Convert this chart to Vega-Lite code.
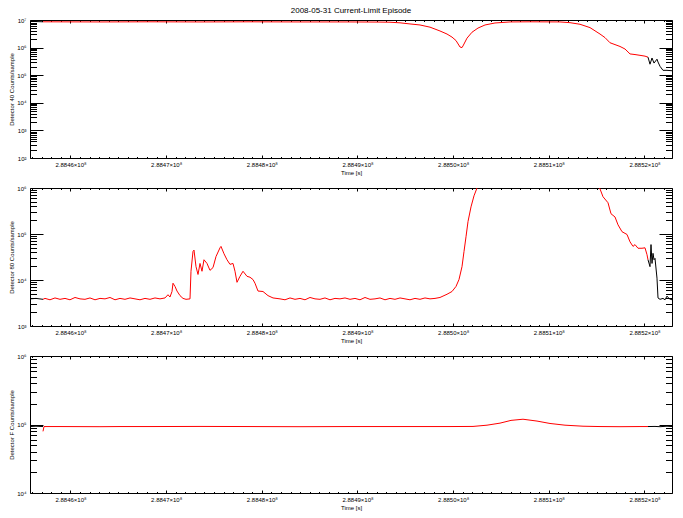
{
  "$schema": "https://vega.github.io/schema/vega-lite/v6.json",
  "background": "white",
  "padding": {"left": 8, "top": 7, "right": 5, "bottom": 5},
  "config": {
    "view": {"stroke": null},
    "axis": {"domainColor": "black", "tickColor": "black", "labelColor": "black", "titleColor": "black", "labelFont": "Liberation Sans", "titleFont": "Liberation Sans", "labelFontSize": 6, "titleFontSize": 6, "titleFontWeight": "normal", "grid": false, "labelOverlap": false, "labelBound": false, "labelFlush": false, "tickWidth": 1, "domainWidth": 1},
    "title": {"font": "Liberation Sans", "fontSize": 8, "fontWeight": "normal", "color": "black"}
  },
  "datasets": {
    "d1": [
      {"t":288455768,"v":8900000,"p":"out","s":"a"},
      {"t":288456395,"v":8800000,"p":"out","s":"a"},
      {"t":288457127,"v":8600000,"p":"out","s":"a"},
      {"t":288457127,"v":8600000,"p":"in","s":"b"},
      {"t":288463085,"v":8500000,"p":"in","s":"b"},
      {"t":288468312,"v":8600000,"p":"in","s":"b"},
      {"t":288473538,"v":8500000,"p":"in","s":"b"},
      {"t":288478765,"v":8600000,"p":"in","s":"b"},
      {"t":288483991,"v":8500000,"p":"in","s":"b"},
      {"t":288489218,"v":8500000,"p":"in","s":"b"},
      {"t":288492354,"v":8400000,"p":"in","s":"b"},
      {"t":288493399,"v":8300000,"p":"in","s":"b"},
      {"t":288494444,"v":7900000,"p":"in","s":"b"},
      {"t":288495489,"v":7200000,"p":"in","s":"b"},
      {"t":288496535,"v":6600000,"p":"in","s":"b"},
      {"t":288497580,"v":5500000,"p":"in","s":"b"},
      {"t":288498625,"v":4000000,"p":"in","s":"b"},
      {"t":288499357,"v":3100000,"p":"in","s":"b"},
      {"t":288499880,"v":2400000,"p":"in","s":"b"},
      {"t":288500298,"v":1800000,"p":"in","s":"b"},
      {"t":288500716,"v":1050000,"p":"in","s":"b"},
      {"t":288500925,"v":1000000,"p":"in","s":"b"},
      {"t":288501029,"v":1150000,"p":"in","s":"b"},
      {"t":288501448,"v":2200000,"p":"in","s":"b"},
      {"t":288501970,"v":3600000,"p":"in","s":"b"},
      {"t":288502597,"v":5100000,"p":"in","s":"b"},
      {"t":288503329,"v":6600000,"p":"in","s":"b"},
      {"t":288504374,"v":7800000,"p":"in","s":"b"},
      {"t":288505942,"v":8500000,"p":"in","s":"b"},
      {"t":288508033,"v":8600000,"p":"in","s":"b"},
      {"t":288511169,"v":8500000,"p":"in","s":"b"},
      {"t":288512214,"v":8000000,"p":"in","s":"b"},
      {"t":288513260,"v":7000000,"p":"in","s":"b"},
      {"t":288514305,"v":5300000,"p":"in","s":"b"},
      {"t":288515350,"v":3100000,"p":"in","s":"b"},
      {"t":288515873,"v":2300000,"p":"in","s":"b"},
      {"t":288516395,"v":1500000,"p":"in","s":"b"},
      {"t":288517441,"v":1100000,"p":"in","s":"b"},
      {"t":288517963,"v":890000,"p":"in","s":"b"},
      {"t":288518486,"v":590000,"p":"in","s":"b"},
      {"t":288519009,"v":560000,"p":"in","s":"b"},
      {"t":288519531,"v":525000,"p":"in","s":"b"},
      {"t":288520054,"v":490000,"p":"in","s":"b"},
      {"t":288520368,"v":450000,"p":"in","s":"b"},
      {"t":288520368,"v":450000,"p":"out","s":"c"},
      {"t":288520577,"v":250000,"p":"out","s":"c"},
      {"t":288520786,"v":420000,"p":"out","s":"c"},
      {"t":288520995,"v":275000,"p":"out","s":"c"},
      {"t":288521308,"v":380000,"p":"out","s":"c"},
      {"t":288521413,"v":300000,"p":"out","s":"c"},
      {"t":288521622,"v":210000,"p":"out","s":"c"},
      {"t":288521935,"v":150000,"p":"out","s":"c"},
      {"t":288522354,"v":150000,"p":"out","s":"c"},
      {"t":288522876,"v":145000,"p":"out","s":"c"}
    ],
    "d2": [
      {"t":288455768,"v":3890,"p":"out","s":"a"},
      {"t":288456395,"v":3981,"p":"out","s":"a"},
      {"t":288457127,"v":3802,"p":"out","s":"a"},
      {"t":288457127,"v":3802,"p":"in","s":"b"},
      {"t":288457336,"v":3981,"p":"in","s":"b"},
      {"t":288457859,"v":3715,"p":"in","s":"b"},
      {"t":288458381,"v":4074,"p":"in","s":"b"},
      {"t":288458904,"v":3802,"p":"in","s":"b"},
      {"t":288459427,"v":3981,"p":"in","s":"b"},
      {"t":288459949,"v":3715,"p":"in","s":"b"},
      {"t":288460472,"v":4169,"p":"in","s":"b"},
      {"t":288460995,"v":3890,"p":"in","s":"b"},
      {"t":288461517,"v":3802,"p":"in","s":"b"},
      {"t":288462040,"v":4074,"p":"in","s":"b"},
      {"t":288462563,"v":3715,"p":"in","s":"b"},
      {"t":288463085,"v":3981,"p":"in","s":"b"},
      {"t":288463608,"v":3890,"p":"in","s":"b"},
      {"t":288464130,"v":4169,"p":"in","s":"b"},
      {"t":288464653,"v":3715,"p":"in","s":"b"},
      {"t":288465176,"v":3981,"p":"in","s":"b"},
      {"t":288465698,"v":3802,"p":"in","s":"b"},
      {"t":288466221,"v":4074,"p":"in","s":"b"},
      {"t":288466744,"v":3890,"p":"in","s":"b"},
      {"t":288467266,"v":3715,"p":"in","s":"b"},
      {"t":288467789,"v":3981,"p":"in","s":"b"},
      {"t":288468312,"v":3802,"p":"in","s":"b"},
      {"t":288468834,"v":4074,"p":"in","s":"b"},
      {"t":288469357,"v":3890,"p":"in","s":"b"},
      {"t":288469880,"v":4074,"p":"in","s":"b"},
      {"t":288470193,"v":4786,"p":"in","s":"b"},
      {"t":288470402,"v":4266,"p":"in","s":"b"},
      {"t":288470611,"v":5623,"p":"in","s":"b"},
      {"t":288470716,"v":8511,"p":"in","s":"b"},
      {"t":288470925,"v":7244,"p":"in","s":"b"},
      {"t":288471134,"v":5754,"p":"in","s":"b"},
      {"t":288471448,"v":4571,"p":"in","s":"b"},
      {"t":288471761,"v":3981,"p":"in","s":"b"},
      {"t":288472075,"v":3802,"p":"in","s":"b"},
      {"t":288472493,"v":3890,"p":"in","s":"b"},
      {"t":288472597,"v":15488,"p":"in","s":"b"},
      {"t":288472806,"v":41687,"p":"in","s":"b"},
      {"t":288472911,"v":44668,"p":"in","s":"b"},
      {"t":288473120,"v":19498,"p":"in","s":"b"},
      {"t":288473329,"v":13183,"p":"in","s":"b"},
      {"t":288473538,"v":22909,"p":"in","s":"b"},
      {"t":288473747,"v":15488,"p":"in","s":"b"},
      {"t":288473956,"v":27542,"p":"in","s":"b"},
      {"t":288474270,"v":22909,"p":"in","s":"b"},
      {"t":288474583,"v":16218,"p":"in","s":"b"},
      {"t":288474897,"v":18621,"p":"in","s":"b"},
      {"t":288475211,"v":32359,"p":"in","s":"b"},
      {"t":288475629,"v":50119,"p":"in","s":"b"},
      {"t":288475733,"v":53703,"p":"in","s":"b"},
      {"t":288476047,"v":37154,"p":"in","s":"b"},
      {"t":288476360,"v":27542,"p":"in","s":"b"},
      {"t":288476674,"v":21878,"p":"in","s":"b"},
      {"t":288476988,"v":22909,"p":"in","s":"b"},
      {"t":288477196,"v":15488,"p":"in","s":"b"},
      {"t":288477406,"v":8913,"p":"in","s":"b"},
      {"t":288477719,"v":12023,"p":"in","s":"b"},
      {"t":288478033,"v":15488,"p":"in","s":"b"},
      {"t":288478451,"v":12023,"p":"in","s":"b"},
      {"t":288478765,"v":11482,"p":"in","s":"b"},
      {"t":288479078,"v":10233,"p":"in","s":"b"},
      {"t":288479287,"v":8511,"p":"in","s":"b"},
      {"t":288479601,"v":5754,"p":"in","s":"b"},
      {"t":288480123,"v":5623,"p":"in","s":"b"},
      {"t":288480646,"v":4571,"p":"in","s":"b"},
      {"t":288481169,"v":4074,"p":"in","s":"b"},
      {"t":288481901,"v":3890,"p":"in","s":"b"},
      {"t":288482423,"v":3715,"p":"in","s":"b"},
      {"t":288482946,"v":4074,"p":"in","s":"b"},
      {"t":288483469,"v":3802,"p":"in","s":"b"},
      {"t":288483991,"v":3981,"p":"in","s":"b"},
      {"t":288484514,"v":3715,"p":"in","s":"b"},
      {"t":288485036,"v":4169,"p":"in","s":"b"},
      {"t":288485559,"v":3890,"p":"in","s":"b"},
      {"t":288486082,"v":3802,"p":"in","s":"b"},
      {"t":288486604,"v":4074,"p":"in","s":"b"},
      {"t":288487127,"v":3715,"p":"in","s":"b"},
      {"t":288487650,"v":3981,"p":"in","s":"b"},
      {"t":288488172,"v":3890,"p":"in","s":"b"},
      {"t":288488695,"v":4074,"p":"in","s":"b"},
      {"t":288489218,"v":3802,"p":"in","s":"b"},
      {"t":288489740,"v":3981,"p":"in","s":"b"},
      {"t":288490263,"v":3715,"p":"in","s":"b"},
      {"t":288490786,"v":4169,"p":"in","s":"b"},
      {"t":288491308,"v":3802,"p":"in","s":"b"},
      {"t":288491831,"v":3890,"p":"in","s":"b"},
      {"t":288492354,"v":4074,"p":"in","s":"b"},
      {"t":288492876,"v":3715,"p":"in","s":"b"},
      {"t":288493399,"v":3981,"p":"in","s":"b"},
      {"t":288493921,"v":3802,"p":"in","s":"b"},
      {"t":288494444,"v":4074,"p":"in","s":"b"},
      {"t":288494967,"v":3890,"p":"in","s":"b"},
      {"t":288495489,"v":3715,"p":"in","s":"b"},
      {"t":288496012,"v":3981,"p":"in","s":"b"},
      {"t":288496535,"v":3802,"p":"in","s":"b"},
      {"t":288497057,"v":4074,"p":"in","s":"b"},
      {"t":288497580,"v":3890,"p":"in","s":"b"},
      {"t":288498103,"v":3981,"p":"in","s":"b"},
      {"t":288498625,"v":4169,"p":"in","s":"b"},
      {"t":288499357,"v":4898,"p":"in","s":"b"},
      {"t":288499880,"v":5623,"p":"in","s":"b"},
      {"t":288500298,"v":7244,"p":"in","s":"b"},
      {"t":288500611,"v":10233,"p":"in","s":"b"},
      {"t":288500925,"v":19498,"p":"in","s":"b"},
      {"t":288501134,"v":41687,"p":"in","s":"b"},
      {"t":288501343,"v":87096,"p":"in","s":"b"},
      {"t":288501552,"v":186209,"p":"in","s":"b"},
      {"t":288501866,"v":389045,"p":"in","s":"b"},
      {"t":288502179,"v":676083,"p":"in","s":"b"},
      {"t":288502493,"v":1000000,"p":"in","s":"b"},
      {"t":288502807,"v":1995262,"p":"in","s":"b"},
      {"t":288503852,"v":3162278,"p":"in","s":"b"},
      {"t":288514305,"v":3162278,"p":"in","s":"b"},
      {"t":288515037,"v":1258925,"p":"in","s":"b"},
      {"t":288515350,"v":954993,"p":"in","s":"b"},
      {"t":288515664,"v":645654,"p":"in","s":"b"},
      {"t":288516186,"v":478630,"p":"in","s":"b"},
      {"t":288516500,"v":275423,"p":"in","s":"b"},
      {"t":288516918,"v":234423,"p":"in","s":"b"},
      {"t":288517232,"v":158489,"p":"in","s":"b"},
      {"t":288517650,"v":112202,"p":"in","s":"b"},
      {"t":288518172,"v":97724,"p":"in","s":"b"},
      {"t":288518486,"v":67608,"p":"in","s":"b"},
      {"t":288518800,"v":53703,"p":"in","s":"b"},
      {"t":288519009,"v":58884,"p":"in","s":"b"},
      {"t":288519322,"v":48978,"p":"in","s":"b"},
      {"t":288519740,"v":48978,"p":"in","s":"b"},
      {"t":288520054,"v":50119,"p":"in","s":"b"},
      {"t":288520263,"v":35481,"p":"in","s":"b"},
      {"t":288520368,"v":27542,"p":"in","s":"b"},
      {"t":288520368,"v":27542,"p":"out","s":"c"},
      {"t":288520577,"v":19498,"p":"out","s":"c"},
      {"t":288520681,"v":58884,"p":"out","s":"c"},
      {"t":288520786,"v":22909,"p":"out","s":"c"},
      {"t":288520890,"v":38019,"p":"out","s":"c"},
      {"t":288520995,"v":27542,"p":"out","s":"c"},
      {"t":288521099,"v":29512,"p":"out","s":"c"},
      {"t":288521308,"v":10965,"p":"out","s":"c"},
      {"t":288521413,"v":4074,"p":"out","s":"c"},
      {"t":288521622,"v":3802,"p":"out","s":"c"},
      {"t":288521935,"v":3981,"p":"out","s":"c"},
      {"t":288522150,"v":3715,"p":"out","s":"c"},
      {"t":288522354,"v":4467,"p":"out","s":"c"},
      {"t":288522600,"v":3890,"p":"out","s":"c"},
      {"t":288522876,"v":3715,"p":"out","s":"c"}
    ],
    "d3": [
      {"t":288455768,"v":93325,"p":"out","s":"a"},
      {"t":288456395,"v":94406,"p":"out","s":"a"},
      {"t":288457127,"v":93325,"p":"out","s":"a"},
      {"t":288457127,"v":79433,"p":"in","s":"b"},
      {"t":288457231,"v":93325,"p":"in","s":"b"},
      {"t":288458904,"v":93325,"p":"in","s":"b"},
      {"t":288463085,"v":92900,"p":"in","s":"b"},
      {"t":288465176,"v":93325,"p":"in","s":"b"},
      {"t":288468312,"v":93325,"p":"in","s":"b"},
      {"t":288473538,"v":93700,"p":"in","s":"b"},
      {"t":288478765,"v":93325,"p":"in","s":"b"},
      {"t":288483991,"v":92900,"p":"in","s":"b"},
      {"t":288489218,"v":93325,"p":"in","s":"b"},
      {"t":288494444,"v":93325,"p":"in","s":"b"},
      {"t":288499671,"v":93325,"p":"in","s":"b"},
      {"t":288502075,"v":93700,"p":"in","s":"b"},
      {"t":288503538,"v":97724,"p":"in","s":"b"},
      {"t":288504897,"v":104713,"p":"in","s":"b"},
      {"t":288506047,"v":114815,"p":"in","s":"b"},
      {"t":288507301,"v":119400,"p":"in","s":"b"},
      {"t":288508765,"v":112202,"p":"in","s":"b"},
      {"t":288510124,"v":103514,"p":"in","s":"b"},
      {"t":288511692,"v":97724,"p":"in","s":"b"},
      {"t":288513573,"v":94406,"p":"in","s":"b"},
      {"t":288515350,"v":93325,"p":"in","s":"b"},
      {"t":288517441,"v":92900,"p":"in","s":"b"},
      {"t":288519531,"v":93325,"p":"in","s":"b"},
      {"t":288520368,"v":93325,"p":"in","s":"b"},
      {"t":288520368,"v":93325,"p":"out","s":"c"},
      {"t":288521099,"v":93700,"p":"out","s":"c"},
      {"t":288521622,"v":92900,"p":"out","s":"c"},
      {"t":288522354,"v":94406,"p":"out","s":"c"},
      {"t":288522876,"v":93325,"p":"out","s":"c"}
    ]
  },
  "spacing": 30,
  "bounds": "flush",
  "vconcat": [
    {
      "width": 642,
      "height": 138,
      "title": {"text": "2008-05-31 Current-Limit Episode", "offset": 2},
      "data": {"name": "d1"},
      "layer": [
        {
          "mark": {"type": "line", "strokeWidth": 1, "clip": true},
          "encoding": {
            "x": {"field": "t", "type": "quantitative", "scale": {"domain": [288455768, 288522876], "nice": false, "zero": false},
              "axis": {"orient": "bottom", "values": [288456000,288457000,288458000,288459000,288460000,288461000,288462000,288463000,288464000,288465000,288466000,288467000,288468000,288469000,288470000,288471000,288472000,288473000,288474000,288475000,288476000,288477000,288478000,288479000,288480000,288481000,288482000,288483000,288484000,288485000,288486000,288487000,288488000,288489000,288490000,288491000,288492000,288493000,288494000,288495000,288496000,288497000,288498000,288499000,288500000,288501000,288502000,288503000,288504000,288505000,288506000,288507000,288508000,288509000,288510000,288511000,288512000,288513000,288514000,288515000,288516000,288517000,288518000,288519000,288520000,288521000,288522000],
                "tickSize": {"condition": {"test": "datum.value % 10000 === 0", "value": -3}, "value": -1.5},
                "labelExpr": "datum.value % 10000 === 0 ? format(datum.value / 1e8, '.4f') + '×10⁸' : ''",
                "labelPadding": 6, "title": "Time [s]", "titlePadding": 1}},
            "y": {"field": "v", "type": "quantitative", "scale": {"type": "log", "domain": [100, 10000000], "nice": false},
              "axis": {"orient": "left", "values": [100,200,300,400,500,600,700,800,900,1000,2000,3000,4000,5000,6000,7000,8000,9000,10000,20000,30000,40000,50000,60000,70000,80000,90000,100000,200000,300000,400000,500000,600000,700000,800000,900000,1000000,2000000,3000000,4000000,5000000,6000000,7000000,8000000,9000000,10000000],
                "tickSize": {"condition": {"test": "abs(log(datum.value)/LN10 - round(log(datum.value)/LN10)) < 0.000001", "value": -13}, "value": -6.5},
                "labelExpr": "abs(log(datum.value)/LN10 - round(log(datum.value)/LN10)) < 0.000001 ? '10' + ['⁰','¹','²','³','⁴','⁵','⁶','⁷','⁸','⁹'][round(log(datum.value)/LN10)] : ''",
                "labelPadding": 17, "title": "Detector 40 Counts/sample", "titlePadding": 2}},
            "color": {"field": "p", "type": "nominal", "scale": {"domain": ["in", "out"], "range": ["#ff0000", "#000000"]}, "legend": null},
            "detail": {"field": "s"}
          }
        },
        {
          "mark": {"type": "line", "opacity": 0},
          "encoding": {
            "x": {"field": "t", "type": "quantitative", "scale": {"domain": [288455768, 288522876], "nice": false, "zero": false},
              "axis": {"orient": "top", "labels": false, "title": null, "values": [288456000,288457000,288458000,288459000,288460000,288461000,288462000,288463000,288464000,288465000,288466000,288467000,288468000,288469000,288470000,288471000,288472000,288473000,288474000,288475000,288476000,288477000,288478000,288479000,288480000,288481000,288482000,288483000,288484000,288485000,288486000,288487000,288488000,288489000,288490000,288491000,288492000,288493000,288494000,288495000,288496000,288497000,288498000,288499000,288500000,288501000,288502000,288503000,288504000,288505000,288506000,288507000,288508000,288509000,288510000,288511000,288512000,288513000,288514000,288515000,288516000,288517000,288518000,288519000,288520000,288521000,288522000],
                "tickSize": {"condition": {"test": "datum.value % 10000 === 0", "value": -3}, "value": -1.5}}},
            "y": {"field": "v", "type": "quantitative", "scale": {"type": "log", "domain": [100, 10000000], "nice": false},
              "axis": {"orient": "right", "labels": false, "title": null, "values": [100,200,300,400,500,600,700,800,900,1000,2000,3000,4000,5000,6000,7000,8000,9000,10000,20000,30000,40000,50000,60000,70000,80000,90000,100000,200000,300000,400000,500000,600000,700000,800000,900000,1000000,2000000,3000000,4000000,5000000,6000000,7000000,8000000,9000000,10000000],
                "tickSize": {"condition": {"test": "abs(log(datum.value)/LN10 - round(log(datum.value)/LN10)) < 0.000001", "value": -13}, "value": -6.5}}}
          }
        }
      ],
      "resolve": {"axis": {"x": "independent", "y": "independent"}}
    },
    {
      "width": 642,
      "height": 138,
      "data": {"name": "d2"},
      "layer": [
        {
          "mark": {"type": "line", "strokeWidth": 1, "clip": true},
          "encoding": {
            "x": {"field": "t", "type": "quantitative", "scale": {"domain": [288455768, 288522876], "nice": false, "zero": false},
              "axis": {"orient": "bottom", "values": [288456000,288457000,288458000,288459000,288460000,288461000,288462000,288463000,288464000,288465000,288466000,288467000,288468000,288469000,288470000,288471000,288472000,288473000,288474000,288475000,288476000,288477000,288478000,288479000,288480000,288481000,288482000,288483000,288484000,288485000,288486000,288487000,288488000,288489000,288490000,288491000,288492000,288493000,288494000,288495000,288496000,288497000,288498000,288499000,288500000,288501000,288502000,288503000,288504000,288505000,288506000,288507000,288508000,288509000,288510000,288511000,288512000,288513000,288514000,288515000,288516000,288517000,288518000,288519000,288520000,288521000,288522000],
                "tickSize": {"condition": {"test": "datum.value % 10000 === 0", "value": -3}, "value": -1.5},
                "labelExpr": "datum.value % 10000 === 0 ? format(datum.value / 1e8, '.4f') + '×10⁸' : ''",
                "labelPadding": 6, "title": "Time [s]", "titlePadding": 1}},
            "y": {"field": "v", "type": "quantitative", "scale": {"type": "log", "domain": [1000, 1000000], "nice": false},
              "axis": {"orient": "left", "values": [1000,2000,3000,4000,5000,6000,7000,8000,9000,10000,20000,30000,40000,50000,60000,70000,80000,90000,100000,200000,300000,400000,500000,600000,700000,800000,900000,1000000],
                "tickSize": {"condition": {"test": "abs(log(datum.value)/LN10 - round(log(datum.value)/LN10)) < 0.000001", "value": -13}, "value": -6.5},
                "labelExpr": "abs(log(datum.value)/LN10 - round(log(datum.value)/LN10)) < 0.000001 ? '10' + ['⁰','¹','²','³','⁴','⁵','⁶','⁷','⁸','⁹'][round(log(datum.value)/LN10)] : ''",
                "labelPadding": 17, "title": "Detector 80 Counts/sample", "titlePadding": 2}},
            "color": {"field": "p", "type": "nominal", "scale": {"domain": ["in", "out"], "range": ["#ff0000", "#000000"]}, "legend": null},
            "detail": {"field": "s"}
          }
        },
        {
          "mark": {"type": "line", "opacity": 0},
          "encoding": {
            "x": {"field": "t", "type": "quantitative", "scale": {"domain": [288455768, 288522876], "nice": false, "zero": false},
              "axis": {"orient": "top", "labels": false, "title": null, "values": [288456000,288457000,288458000,288459000,288460000,288461000,288462000,288463000,288464000,288465000,288466000,288467000,288468000,288469000,288470000,288471000,288472000,288473000,288474000,288475000,288476000,288477000,288478000,288479000,288480000,288481000,288482000,288483000,288484000,288485000,288486000,288487000,288488000,288489000,288490000,288491000,288492000,288493000,288494000,288495000,288496000,288497000,288498000,288499000,288500000,288501000,288502000,288503000,288504000,288505000,288506000,288507000,288508000,288509000,288510000,288511000,288512000,288513000,288514000,288515000,288516000,288517000,288518000,288519000,288520000,288521000,288522000],
                "tickSize": {"condition": {"test": "datum.value % 10000 === 0", "value": -3}, "value": -1.5}}},
            "y": {"field": "v", "type": "quantitative", "scale": {"type": "log", "domain": [1000, 1000000], "nice": false},
              "axis": {"orient": "right", "labels": false, "title": null, "values": [1000,2000,3000,4000,5000,6000,7000,8000,9000,10000,20000,30000,40000,50000,60000,70000,80000,90000,100000,200000,300000,400000,500000,600000,700000,800000,900000,1000000],
                "tickSize": {"condition": {"test": "abs(log(datum.value)/LN10 - round(log(datum.value)/LN10)) < 0.000001", "value": -13}, "value": -6.5}}}
          }
        }
      ],
      "resolve": {"axis": {"x": "independent", "y": "independent"}}
    },
    {
      "width": 642,
      "height": 137,
      "data": {"name": "d3"},
      "layer": [
        {
          "mark": {"type": "line", "strokeWidth": 1, "clip": true},
          "encoding": {
            "x": {"field": "t", "type": "quantitative", "scale": {"domain": [288455768, 288522876], "nice": false, "zero": false},
              "axis": {"orient": "bottom", "values": [288456000,288457000,288458000,288459000,288460000,288461000,288462000,288463000,288464000,288465000,288466000,288467000,288468000,288469000,288470000,288471000,288472000,288473000,288474000,288475000,288476000,288477000,288478000,288479000,288480000,288481000,288482000,288483000,288484000,288485000,288486000,288487000,288488000,288489000,288490000,288491000,288492000,288493000,288494000,288495000,288496000,288497000,288498000,288499000,288500000,288501000,288502000,288503000,288504000,288505000,288506000,288507000,288508000,288509000,288510000,288511000,288512000,288513000,288514000,288515000,288516000,288517000,288518000,288519000,288520000,288521000,288522000],
                "tickSize": {"condition": {"test": "datum.value % 10000 === 0", "value": -3}, "value": -1.5},
                "labelExpr": "datum.value % 10000 === 0 ? format(datum.value / 1e8, '.4f') + '×10⁸' : ''",
                "labelPadding": 6, "title": "Time [s]", "titlePadding": 1}},
            "y": {"field": "v", "type": "quantitative", "scale": {"type": "log", "domain": [10000, 1000000], "nice": false},
              "axis": {"orient": "left", "values": [10000,20000,30000,40000,50000,60000,70000,80000,90000,100000,200000,300000,400000,500000,600000,700000,800000,900000,1000000],
                "tickSize": {"condition": {"test": "abs(log(datum.value)/LN10 - round(log(datum.value)/LN10)) < 0.000001", "value": -13}, "value": -6.5},
                "labelExpr": "abs(log(datum.value)/LN10 - round(log(datum.value)/LN10)) < 0.000001 ? '10' + ['⁰','¹','²','³','⁴','⁵','⁶','⁷','⁸','⁹'][round(log(datum.value)/LN10)] : ''",
                "labelPadding": 17, "title": "Detector F Counts/sample", "titlePadding": 2}},
            "color": {"field": "p", "type": "nominal", "scale": {"domain": ["in", "out"], "range": ["#ff0000", "#000000"]}, "legend": null},
            "detail": {"field": "s"}
          }
        },
        {
          "mark": {"type": "line", "opacity": 0},
          "encoding": {
            "x": {"field": "t", "type": "quantitative", "scale": {"domain": [288455768, 288522876], "nice": false, "zero": false},
              "axis": {"orient": "top", "labels": false, "title": null, "values": [288456000,288457000,288458000,288459000,288460000,288461000,288462000,288463000,288464000,288465000,288466000,288467000,288468000,288469000,288470000,288471000,288472000,288473000,288474000,288475000,288476000,288477000,288478000,288479000,288480000,288481000,288482000,288483000,288484000,288485000,288486000,288487000,288488000,288489000,288490000,288491000,288492000,288493000,288494000,288495000,288496000,288497000,288498000,288499000,288500000,288501000,288502000,288503000,288504000,288505000,288506000,288507000,288508000,288509000,288510000,288511000,288512000,288513000,288514000,288515000,288516000,288517000,288518000,288519000,288520000,288521000,288522000],
                "tickSize": {"condition": {"test": "datum.value % 10000 === 0", "value": -3}, "value": -1.5}}},
            "y": {"field": "v", "type": "quantitative", "scale": {"type": "log", "domain": [10000, 1000000], "nice": false},
              "axis": {"orient": "right", "labels": false, "title": null, "values": [10000,20000,30000,40000,50000,60000,70000,80000,90000,100000,200000,300000,400000,500000,600000,700000,800000,900000,1000000],
                "tickSize": {"condition": {"test": "abs(log(datum.value)/LN10 - round(log(datum.value)/LN10)) < 0.000001", "value": -13}, "value": -6.5}}}
          }
        }
      ],
      "resolve": {"axis": {"x": "independent", "y": "independent"}}
    }
  ]
}
